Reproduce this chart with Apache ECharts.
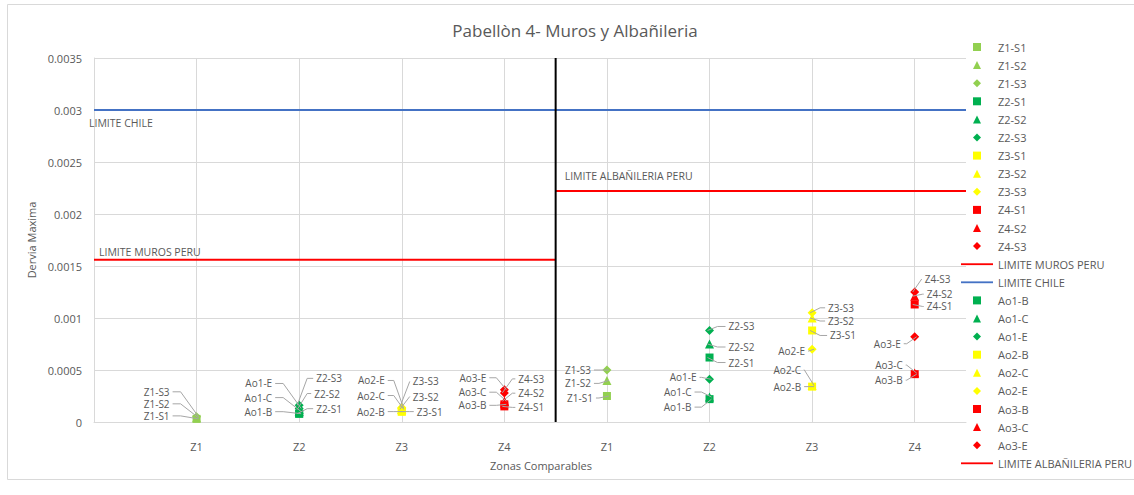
<!DOCTYPE html>
<html>
<head>
<meta charset="utf-8">
<title>Pabellòn 4- Muros y Albañileria</title>
<script src="https://cdn.jsdelivr.net/npm/echarts@6/dist/echarts.min.js"></script>
<style>
  html, body { margin: 0; padding: 0; background: #ffffff; }
  #chart { width: 1134px; height: 495px; }
</style>
</head>
<body>
<div id="chart"></div>
<script>
// x positions 1..4 = muros side, 5..8 = albañileria side
const zoneLabels = ['Z1', 'Z2', 'Z3', 'Z4', 'Z1', 'Z2', 'Z3', 'Z4'];

// Sensors S1..S3 per zone (Z1..Z4), muros side
const murosS1 = [0.00003, 0.00008, 0.00010, 0.00015];
const murosS2 = [0.00004, 0.00012, 0.00012, 0.00020];
const murosS3 = [0.00005, 0.00016, 0.00014, 0.00028];
// Sensors S1..S3 per zone (Z1..Z4), albañileria side
const albS1 = [0.00025, 0.00062, 0.00088, 0.00113];
const albS2 = [0.00040, 0.00075, 0.00100, 0.00121];
const albS3 = [0.00050, 0.00088, 0.00105, 0.00125];

// Ao1..Ao3 points (zones Z2..Z4), muros side
const murosAoB = [0.00008, 0.00010, 0.00017];
const murosAoC = [0.00010, 0.00012, 0.00020];
const murosAoE = [0.00013, 0.00013, 0.00031];
// Ao1..Ao3 points (zones Z2..Z4), albañileria side
const albAoB = [0.00022, 0.00034, 0.00046];
const albAoC = [0.00024, 0.00035, 0.00047];
const albAoE = [0.00041, 0.00070, 0.00082];

// Drift limits
const limiteMuros = 0.00156;
const limiteChile = 0.003;
const limiteAlb = 0.00222;

const zoneColors = ['#92D050', '#00B050', '#FFFF00', '#FF0000'];
const TEXT = '#595959';
const FONT = '"Open Sans", sans-serif';

// Data-label placement (pixel offset of the label from its marker), [muros, albañileria]
const labelOffsets = {
  'Z1-S1': [[-27, -3], [-14, 2]],
  'Z1-S2': [[-27, -14], [-16, 3]],
  'Z1-S3': [[-27, -25], [-16, 0]],
  'Z2-S1': [[17, -5], [19, 5]],
  'Z2-S2': [[15, -16], [19, 3]],
  'Z2-S3': [[17, -27], [19, -4]],
  'Z3-S1': [[15, 0], [18, 5]],
  'Z3-S2': [[11, -13], [16, 3]],
  'Z3-S3': [[11, -26], [16, -5]],
  'Z4-S1': [[14, 1], [12, 2]],
  'Z4-S2': [[14, -8], [12, -2]],
  'Z4-S3': [[14, -14], [10, -13]],
  'Ao1-B': [[-27, -2], [-18, 8]],
  'Ao1-C': [[-27, -14], [-18, -5]],
  'Ao1-E': [[-27, -25], [-13, -2]],
  'Ao2-B': [[-17, 0], [-11, 0]],
  'Ao2-C': [[-17, -14], [-11, -16]],
  'Ao2-E': [[-17, -28], [-7, 2]],
  'Ao3-B': [[-18, 1], [-12, 6]],
  'Ao3-C': [[-18, -9], [-12, -8]],
  'Ao3-E': [[-18, -12], [-14, 7]]
};

const shapes = ['rect', 'triangle', 'diamond'];
const shapeSizes = [8, 9, 9];
// Legend glyphs for the same shapes, kept square inside the legend box
const shapeIcons = [
  'path://M0,0 L8,0 L8,8 L0,8 Z',
  'path://M4,0 L8,8 L0,8 Z',
  'path://M4,0 L8,4 L4,8 L0,4 Z'
];

const scatterSeries = [];
const zSeriesNames = [];
const aoSeriesNames = [];

// Z series: Z{k}-S{j}
const murosS = [murosS1, murosS2, murosS3];
const albS = [albS1, albS2, albS3];
for (let k = 0; k < 4; k++) {
  for (let j = 0; j < 3; j++) {
    const name = 'Z' + (k + 1) + '-S' + (j + 1);
    zSeriesNames.push({ name, icon: shapeIcons[j] });
    scatterSeries.push({
      name,
      color: zoneColors[k],
      shape: j,
      points: [[k + 1, murosS[j][k]], [k + 5, albS[j][k]]]
    });
  }
}
// Ao series: Ao{i}-B/C/E
const aoKeys = ['B', 'C', 'E'];
const murosAo = [murosAoB, murosAoC, murosAoE];
const albAo = [albAoB, albAoC, albAoE];
for (let i = 0; i < 3; i++) {
  for (let j = 0; j < 3; j++) {
    const name = 'Ao' + (i + 1) + '-' + aoKeys[j];
    aoSeriesNames.push({ name, icon: shapeIcons[j] });
    scatterSeries.push({
      name,
      color: zoneColors[i + 1],
      shape: j,
      points: [[i + 2, murosAo[j][i]], [i + 6, albAo[j][i]]]
    });
  }
}

// Label items for the leader-line label layer
const labelItems = [];
scatterSeries.forEach(s => {
  s.points.forEach((p, idx) => {
    const off = labelOffsets[s.name][idx];
    labelItems.push({ name: s.name, x: p[0], y: p[1], dx: off[0], dy: off[1] });
  });
});

const series = scatterSeries.map(s => ({
  name: s.name,
  type: 'scatter',
  symbol: shapes[s.shape],
  symbolSize: shapeSizes[s.shape],
  itemStyle: { color: s.color, opacity: 1 },
  data: s.points,
  z: 3
}));

function limitLine(name, color, x0, x1, value, labelOffset) {
  return {
    name,
    type: 'line',
    symbol: 'circle',
    symbolSize: 0,
    showSymbol: true,
    color,
    lineStyle: { color, width: 2 },
    itemStyle: { color },
    data: [
      {
        value: [x0, value],
        label: {
          show: true,
          formatter: name,
          position: 'right',
          distance: 0,
          offset: labelOffset,
          color: TEXT,
          fontFamily: FONT,
          fontSize: 10.5
        }
      },
      [x1, value]
    ],
    z: 2,
    silent: true
  };
}

series.push(limitLine('LIMITE MUROS PERU', '#FF0000', 0, 4.5, limiteMuros, [5, -8]));
series.push(limitLine('LIMITE CHILE', '#4472C4', 0, 8.5, limiteChile, [-5, 13]));
series.push(limitLine('LIMITE ALBAÑILERIA PERU', '#FF0000', 4.5, 8.5, limiteAlb, [9, -15]));

// Divider between the two groups of zones, plus the vertical grid lines
series.push({
  name: 'divisor',
  type: 'line',
  symbol: 'none',
  lineStyle: { color: '#000000', width: 2 },
  data: [[4.5, 0], [4.5, 0.0035]],
  silent: true,
  z: 2,
  markLine: {
    silent: true,
    symbol: 'none',
    label: { show: false },
    lineStyle: { color: '#d9d9d9', width: 1, type: 'solid' },
    data: [1, 2, 3, 4, 5, 6, 7, 8].map(v => ({ xAxis: v })),
    z: 0
  }
});

// Data labels with leader lines
series.push({
  name: 'etiquetas',
  type: 'custom',
  silent: true,
  z: 4,
  data: labelItems.map(d => [d.x, d.y]),
  renderItem(params, api) {
    const it = labelItems[params.dataIndex];
    const p = api.coord([api.value(0), api.value(1)]);
    const tx = p[0] + it.dx;
    const ty = p[1] + it.dy;
    const dir = it.dx < 0 ? -1 : 1;
    const start = tx - dir * 3;
    const run = Math.max(0, Math.min(8, Math.abs(it.dx) - 11));
    const bend = start - dir * run;
    const endX = p[0] - dir * 2;
    return {
      type: 'group',
      children: [
        {
          type: 'polyline',
          shape: { points: [[start, ty], [bend, ty], [endX, p[1]]] },
          style: { stroke: '#a6a6a6', lineWidth: 1, fill: null }
        },
        {
          type: 'text',
          x: tx,
          y: ty,
          style: {
            text: it.name,
            fill: TEXT,
            font: '10px ' + FONT,
            align: dir < 0 ? 'right' : 'left',
            verticalAlign: 'middle'
          }
        }
      ]
    };
  }
});

const lineIcon = 'path://M0,0 L35,0 L35,2 L0,2 Z';
const legendData = [
  ...zSeriesNames,
  { name: 'LIMITE MUROS PERU', icon: lineIcon },
  { name: 'LIMITE CHILE', icon: lineIcon },
  ...aoSeriesNames,
  { name: 'LIMITE ALBAÑILERIA PERU', icon: lineIcon }
];

const chart = echarts.init(document.getElementById('chart'), null, { renderer: 'svg' });
chart.setOption({
  backgroundColor: '#ffffff',
  animation: false,
  textStyle: { fontFamily: FONT },
  graphic: [
    {
      type: 'rect',
      shape: { x: 7.5, y: 4.5, width: 1140, height: 475 },
      style: { fill: 'none', stroke: '#d9d9d9', lineWidth: 1 },
      silent: true,
      z: -10
    },
    {
      type: 'text',
      x: 575,
      y: 30,
      style: {
        text: 'Pabellòn 4- Muros y Albañileria',
        fill: TEXT,
        font: '17px ' + FONT,
        align: 'center',
        verticalAlign: 'middle'
      }
    },
    {
      type: 'text',
      x: 541,
      y: 465,
      style: {
        text: 'Zonas Comparables',
        fill: TEXT,
        font: '11px ' + FONT,
        align: 'center',
        verticalAlign: 'middle'
      }
    }
  ],
  grid: { left: 94, top: 58, width: 872, height: 364, containLabel: false },
  legend: {
    orient: 'vertical',
    left: 961,
    top: 38,
    padding: 0,
    itemWidth: 32,
    itemHeight: 8,
    itemGap: 0.1,
    symbolKeepAspect: true,
    selectedMode: false,
    textStyle: { color: TEXT, fontSize: 11, fontFamily: FONT, lineHeight: 18 },
    data: legendData
  },
  xAxis: {
    type: 'value',
    min: 0,
    max: 8.5,
    interval: 1,
    axisLine: { show: true, lineStyle: { color: '#d9d9d9', width: 1 } },
    axisTick: { show: false },
    splitLine: { show: false },
    axisLabel: {
      color: TEXT,
      fontSize: 11,
      margin: 19,
      formatter: v => (Number.isInteger(v) && v >= 1 && v <= 8 ? zoneLabels[v - 1] : '')
    }
  },
  yAxis: {
    type: 'value',
    min: 0,
    max: 0.0035,
    interval: 0.0005,
    name: 'Dervia Maxima',
    nameLocation: 'middle',
    nameGap: 52,
    nameTextStyle: { color: TEXT, fontSize: 11 },
    axisLine: { show: true, lineStyle: { color: '#d9d9d9', width: 1 } },
    axisTick: { show: false },
    splitLine: { show: true, lineStyle: { color: '#d9d9d9', width: 1 } },
    axisLabel: {
      color: TEXT,
      fontSize: 11,
      margin: 12,
      formatter: v => String(parseFloat(v.toFixed(4)))
    }
  },
  series
});
</script>
</body>
</html>
